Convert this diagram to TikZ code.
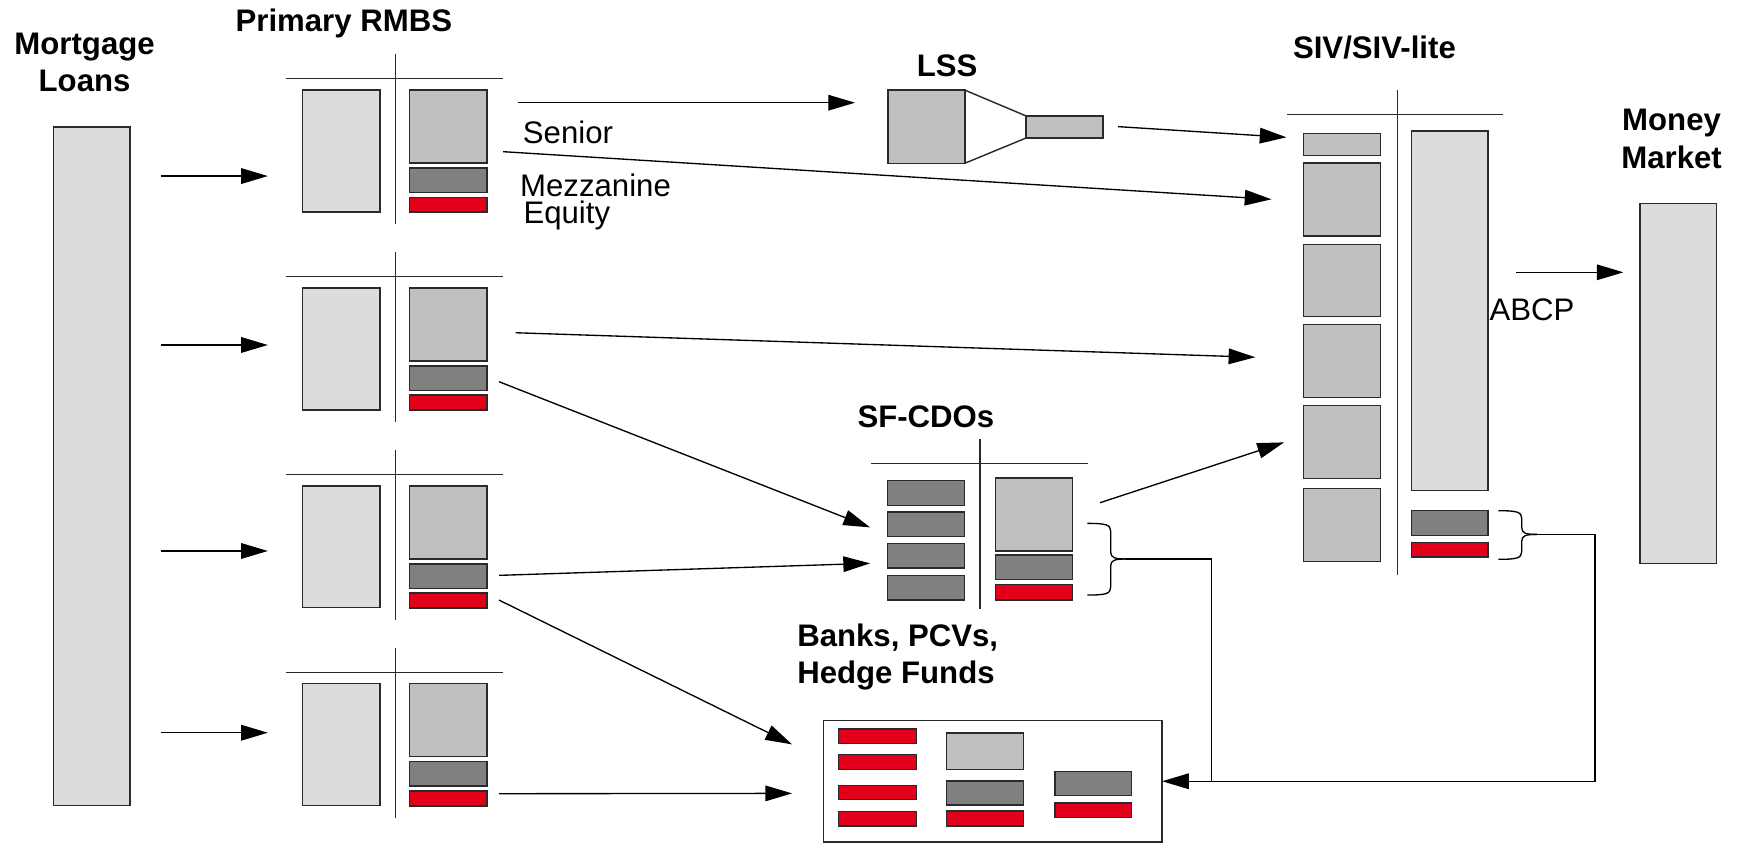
\documentclass[tikz,border=0pt]{standalone}
\usepackage{fontspec}
\setmainfont{Liberation Sans}
\usetikzlibrary{arrows.meta,fit}
\definecolor{lt}{HTML}{DCDCDC}
\definecolor{md}{HTML}{C0C0C0}
\definecolor{dk}{HTML}{808080}
\definecolor{rd}{HTML}{E2001A}
\definecolor{ln}{HTML}{2A2A2A}
\begin{document}
\begin{tikzpicture}[x=0.5pt,y=-0.5pt,
  box/.style={draw=ln, line width=0.65pt, inner sep=0pt, outer sep=0pt},
  lbox/.style={box, fill=lt},
  mbox/.style={box, fill=md},
  dbox/.style={box, fill=dk},
  rbox/.style={box, fill=rd},
  wbox/.style={box, fill=white},
  tline/.style={draw=ln, line width=0.65pt},
  arr/.style={-{Triangle[length=12pt,width=7pt]}, line width=0.6pt},
  conn/.style={line width=0.6pt},
  title/.style={font=\fontsize{14}{16}\selectfont\bfseries, inner sep=0pt, anchor=base},
  lab/.style={font=\fontsize{14}{16}\selectfont, inner sep=0pt, anchor=base west}]
\useasboundingbox (0,0) rectangle (1568,758);

% ---- titles and labels
\node[title] (tmort) at (76,49) {Mortgage};
\node[title] (tloans) at (76,82) {Loans};
\node[title] (trmbs) at (309,28) {Primary RMBS};
\node[title] (tlss) at (851,69) {LSS};
\node[title] (tsiv) at (1235,53) {SIV/SIV-lite};
\node[title] (tmoney) at (1502,117) {Money};
\node[title] (tmarket) at (1502,151) {Market};
\node[title] (tcdo) at (832,384) {SF-CDOs};
\node[title, anchor=base west] (tbanks) at (716,581) {Banks, PCVs,};
\node[title, anchor=base west] (thedge) at (716,614) {Hedge Funds};
\node[lab] (lsen) at (469.5,129) {Senior};
\node[lab, align=left, font=\fontsize{14}{12}\selectfont] (lmez) at (467,201) {Mezzanine\\\hspace*{1.5pt}Equity};
\node[lab] (labcp) at (1338,288) {ABCP};

% ---- mortgage loans
\node[lbox, fit={(48,114)(117,724)}] (mort) {};

% ---- primary RMBS
\foreach \k/\d in {1/0,2/177.8,3/355.6,4/533.4}{
  \draw[tline] (257,70.7+\d) -- (452,70.7+\d);
  \draw[tline] (355.5,48.5+\d) -- (355.5,201.6+\d);
  \node[lbox, fit={(272,81+\d)(341.5,190.5+\d)}] (r\k-a) {};
  \node[mbox, fit={(368,81+\d)(437.5,146.5+\d)}] (r\k-s) {};
  \node[dbox, fit={(368,151+\d)(437.5,173+\d)}] (r\k-m) {};
  \node[rbox, fit={(368,177.3+\d)(437.5,190.7+\d)}] (r\k-e) {};
}

% ---- LSS
\node[mbox, fit={(798,81)(867,146.7)}] (lss) {};
\node[mbox, fit={(922,104.2)(991,124)}] (lssout) {};
\draw[tline] (lss.north east) -- (lssout.north west);
\draw[tline] (lss.south east) -- (lssout.south west);

% ---- SIV / SIV-lite
\draw[tline] (1156.6,103) -- (1350.6,103);
\draw[tline] (1255.7,81) -- (1255.7,517);
\node[mbox, fit={(1171.2,119.8)(1240.7,139.9)}] (siv0) {};
\node[mbox, fit={(1171.2,146.5)(1240.7,212)}] (siv1) {};
\node[mbox, fit={(1171.2,219.5)(1240.7,284.6)}] (siv2) {};
\node[mbox, fit={(1171.2,291.4)(1240.7,357.4)}] (siv3) {};
\node[mbox, fit={(1171.2,364.5)(1240.7,429.8)}] (siv4) {};
\node[mbox, fit={(1171.2,438.8)(1240.7,504.4)}] (siv5) {};
\node[lbox, fit={(1268.2,117.7)(1337.1,440.6)}] (sivcp) {};
\node[dbox, fit={(1268.2,458.6)(1337.1,481)}] (sivm) {};
\node[rbox, fit={(1268.2,487.3)(1337.1,500.5)}] (sive) {};

% ---- money market
\node[lbox, fit={(1473.7,182.7)(1542.6,506.2)}] (money) {};

% ---- SF-CDOs
\draw[tline] (783,416.7) -- (977.7,416.7);
\draw[tline] (880.6,394.8) -- (880.6,547.5);
\node[dbox, fit={(797.4,432)(866.9,454.1)}] (cdoa1) {};
\node[dbox, fit={(797.4,460)(866.9,482.3)}] (cdoa2) {};
\node[dbox, fit={(797.4,488.2)(866.9,510.4)}] (cdoa3) {};
\node[dbox, fit={(797.4,517)(866.9,539.2)}] (cdoa4) {};
\node[mbox, fit={(894.4,429.5)(963.9,495.1)}] (cdos) {};
\node[dbox, fit={(894.4,498.7)(963.9,520.9)}] (cdom) {};
\node[rbox, fit={(894.4,525)(963.9,539.2)}] (cdoe) {};

% ---- Banks, PCVs, Hedge Funds
\node[wbox, fit={(739.8,647.6)(1044.2,756.4)}] (banks) {};
\node[rbox, fit={(753.6,655)(823.7,668)}] (b1) {};
\node[rbox, fit={(753.6,677.8)(823.7,691.3)}] (b2) {};
\node[rbox, fit={(753.6,705.7)(823.7,718.6)}] (b3) {};
\node[rbox, fit={(753.6,729)(823.7,742.3)}] (b4) {};
\node[mbox, fit={(850.7,658.7)(919.6,691.3)}] (b5) {};
\node[dbox, fit={(850.7,701.8)(919.6,723.4)}] (b6) {};
\node[rbox, fit={(850.7,728.8)(919.6,742.3)}] (b7) {};
\node[dbox, fit={(947.8,693.1)(1016.6,715)}] (b8) {};
\node[rbox, fit={(947.8,721.6)(1016.6,734.8)}] (b9) {};

% ---- braces
\draw[conn] (977,470.3) .. controls (994,470.3) and (998,471.5) .. (998,477.5)
  -- (998,496) .. controls (998,501.3) and (1002,502.3) .. (1012,502.3);
\draw[conn] (977,534.7) .. controls (994,534.7) and (998,533.5) .. (998,527.5)
  -- (998,508.5) .. controls (998,503.3) and (1002,502.3) .. (1012,502.3);
\draw[conn] (1346.4,458.9) .. controls (1363,458.9) and (1367.4,460) .. (1367.4,466)
  -- (1367.4,474) .. controls (1367.4,479.2) and (1371,480.2) .. (1381,480.2);
\draw[conn] (1346.4,502.6) .. controls (1363,502.6) and (1367.4,501.5) .. (1367.4,495.5)
  -- (1367.4,486.5) .. controls (1367.4,481.2) and (1371,480.2) .. (1381,480.2);
\coordinate (cdotip) at (1012,502.3);
\coordinate (sivtip) at (1381,480.2);
\coordinate (cdocorner) at (1088.8,502.3);
\coordinate (cdojoin) at (1088.8,702);
\coordinate (sivcorner) at (1433.3,480.2);
\coordinate (sivdown) at (1433.3,702);

% ---- connector end points
\coordinate (m1s) at (144.4,158.2); \coordinate (m1e) at (240.7,158.2);
\coordinate (m2s) at (144.4,310);   \coordinate (m2e) at (240.7,310);
\coordinate (m3s) at (144.4,495.1); \coordinate (m3e) at (240.7,495.1);
\coordinate (m4s) at (144.4,658.4); \coordinate (m4e) at (240.7,658.4);
\coordinate (lssin0) at (465.4,92.3);   \coordinate (lssin) at (768.3,92.3);
\coordinate (lssout0) at (1004.7,113.8); \coordinate (sivin0) at (1156,123.4);
\coordinate (sen0) at (452,136.3);      \coordinate (sivin1) at (1142.5,179.1);
\coordinate (r2s0) at (463.3,299);      \coordinate (sivin3) at (1128,321);
\coordinate (r2m0) at (448.4,343);      \coordinate (cdoin2) at (781.8,473.9);
\coordinate (r3m0) at (448.4,517);      \coordinate (cdoin3) at (781.8,506.2);
\coordinate (r3e0) at (448.4,539.2);    \coordinate (bin1) at (711.7,668.9);
\coordinate (r4e0) at (448.4,713.2);    \coordinate (bin2) at (711.7,712.9);
\coordinate (cdoout) at (988.5,451.7);  \coordinate (sivin5) at (1153.8,397.5);
\coordinate (sivout) at (1362.3,244.7); \coordinate (mmin) at (1458.8,244.7);

% ---- connectors
\draw[arr] (m1s) -- (m1e);
\draw[arr] (m2s) -- (m2e);
\draw[arr] (m3s) -- (m3e);
\draw[arr] (m4s) -- (m4e);
\draw[arr] (lssin0) -- (lssin);
\draw[arr] (lssout0) -- (sivin0);
\draw[arr] (sen0) -- (sivin1);
\draw[arr] (r2s0) -- (sivin3);
\draw[arr] (r2m0) -- (cdoin2);
\draw[arr] (r3m0) -- (cdoin3);
\draw[arr] (r3e0) -- (bin1);
\draw[arr] (r4e0) -- (bin2);
\draw[arr] (cdoout) -- (sivin5);
\draw[arr] (sivout) -- (mmin);
\draw[conn] (cdotip) -- (cdocorner) -- (cdojoin);
\draw[arr] (sivtip) -- (sivcorner) -- (sivdown) -- (banks.east);
\end{tikzpicture}
\end{document}
